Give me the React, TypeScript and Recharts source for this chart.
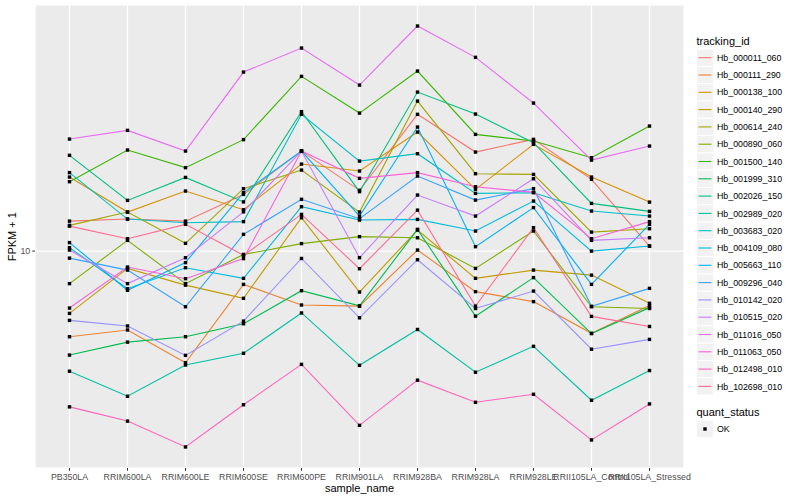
import { CartesianGrid, Line, LineChart, XAxis, YAxis } from 'recharts'

// FPKM + 1 per sample (log10 y axis)
const samples = [
  'PB350LA',
  'RRIM600LA',
  'RRIM600LE',
  'RRIM600SE',
  'RRIM600PE',
  'RRIM901LA',
  'RRIM928BA',
  'RRIM928LA',
  'RRIM928LE',
  'RRII105LA_Control',
  'RRII105LA_Stressed',
]

const hb000011_060 = [12.21, 12.38, 12.21, 14.59, 19.48, 14.99, 24.88, 19.35, 21.06, 16.13, 10.34]
const hb000111_290 = [5.65, 5.91, 4.75, 8.01, 6.98, 6.93, 10.07, 7.63, 7.14, 5.78, 6.96]
const hb000138_100 = [16.38, 12.97, 14.92, 13.18, 17.86, 17.05, 22.11, 15.09, 20.37, 16.38, 13.86]
const hb000140_290 = [6.6, 8.91, 7.97, 7.3, 12.49, 7.61, 11.5, 8.34, 8.81, 8.52, 7.06]
const hb000614_240 = [11.87, 12.97, 10.53, 15.16, 17.16, 12.97, 27.18, 16.75, 16.67, 11.35, 11.61]
const hb000890_060 = [8.05, 10.74, 8.05, 9.78, 10.51, 11.01, 10.93, 8.91, 11.43, 6.9, 6.82]
const hb001500_140 = [15.88, 19.61, 17.44, 21.02, 32.05, 25.09, 33.2, 21.77, 20.82, 18.64, 23.01]
const hb001999_310 = [5.0, 5.45, 5.65, 6.16, 7.68, 6.94, 11.56, 6.48, 8.38, 5.77, 6.86]
const hb002026_150 = [18.93, 14.02, 16.34, 13.88, 25.33, 14.86, 28.86, 24.93, 20.6, 13.74, 13.03]
const hb002989_020 = [4.49, 3.8, 4.68, 5.06, 6.62, 4.67, 5.93, 4.46, 5.3, 3.7, 4.51]
const hb003683_020 = [16.87, 12.38, 12.08, 12.17, 24.88, 18.22, 19.14, 14.69, 14.76, 13.06, 12.63]
const hb004109_080 = [10.23, 7.78, 8.95, 8.34, 13.44, 12.3, 12.35, 11.43, 13.96, 10.0, 10.34]
const hb005663_110 = [10.58, 7.7, 9.26, 14.76, 19.48, 12.63, 22.86, 10.3, 13.36, 8.01, 11.95]
const hb009296_040 = [9.54, 8.81, 6.9, 11.18, 14.12, 12.41, 16.49, 14.05, 15.16, 6.92, 7.8]
const hb010142_020 = [6.3, 6.07, 4.99, 6.27, 9.52, 6.41, 9.44, 6.82, 7.66, 5.2, 5.55]
const hb010515_020 = [10.07, 8.05, 9.57, 12.99, 19.48, 9.57, 14.53, 12.63, 16.2, 10.74, 10.93]
const hb011016_050 = [21.1, 22.36, 19.48, 32.98, 38.7, 30.24, 44.82, 36.38, 26.82, 18.34, 20.14]
const hb011063_050 = [6.84, 8.99, 8.32, 9.51, 19.48, 16.24, 16.87, 15.36, 14.79, 10.86, 12.17]
const hb012498_010 = [3.54, 3.22, 2.71, 3.59, 4.7, 3.13, 4.23, 3.65, 3.85, 2.84, 3.61]
const hb102698_010 = [11.81, 10.86, 11.95, 9.72, 12.77, 8.89, 13.14, 6.93, 11.69, 6.47, 6.05]

const trackingIds = [
  'Hb_000011_060',
  'Hb_000111_290',
  'Hb_000138_100',
  'Hb_000140_290',
  'Hb_000614_240',
  'Hb_000890_060',
  'Hb_001500_140',
  'Hb_001999_310',
  'Hb_002026_150',
  'Hb_002989_020',
  'Hb_003683_020',
  'Hb_004109_080',
  'Hb_005663_110',
  'Hb_009296_040',
  'Hb_010142_020',
  'Hb_010515_020',
  'Hb_011016_050',
  'Hb_011063_050',
  'Hb_012498_010',
  'Hb_102698_010',
]

const seriesValues = [
  hb000011_060, hb000111_290, hb000138_100, hb000140_290, hb000614_240,
  hb000890_060, hb001500_140, hb001999_310, hb002026_150, hb002989_020,
  hb003683_020, hb004109_080, hb005663_110, hb009296_040, hb010142_020,
  hb010515_020, hb011016_050, hb011063_050, hb012498_010, hb102698_010,
]

// ggplot default hue palette, 20 levels
const colors = [
  '#F8766D', '#EA8331', '#D89000', '#C09B00', '#A3A500',
  '#7CAE00', '#39B600', '#00BB4E', '#00BF7D', '#00C1A3',
  '#00BFC4', '#00BAE0', '#00B0F6', '#35A2FF', '#9590FF',
  '#C77CFF', '#E76BF3', '#FA62DB', '#FF62BC', '#FF6C91',
]

const yTicks = [10]

const chartData = samples.map((sample, i) => {
  const row: Record<string, string | number> = { sample }
  trackingIds.forEach((id, k) => {
    row[id] = seriesValues[k][i]
  })
  return row
})

// log range of the data plus 5% each side, like ggplot
const allValues = seriesValues.flat()
const lMin = Math.log10(Math.min(...allValues))
const lMax = Math.log10(Math.max(...allValues))
const lPad = (lMax - lMin) * 0.05
const yDomain = [10 ** (lMin - lPad), 10 ** (lMax + lPad)]

const FONT = '"Liberation Sans", Arial, Helvetica, sans-serif'
const tickStyle = { fontSize: 8.8, fill: '#4D4D4D', fontFamily: FONT }

const renderDot = (p: any) => {
  if (p.cx == null || p.cy == null) return <g key={`${p.dataKey}-${p.index}`} />
  return (
    <rect
      key={`${p.dataKey}-${p.index}`}
      x={p.cx - 1.7}
      y={p.cy - 1.7}
      width={3.4}
      height={3.4}
      fill="#000000"
    />
  )
}

const LEGEND_X = 696.5
const LEGEND_TOP = 57.7
const LEGEND_STEP = 17.3

const Legend = () => (
  <svg
    width={800}
    height={500}
    style={{ position: 'absolute', left: 0, top: 0, pointerEvents: 'none' }}
    fontFamily={FONT}
  >
    <text x={359.5} y={492} fontSize={11} textAnchor="middle" fill="#000">
      sample_name
    </text>
    <text
      x={16.5}
      y={236.7}
      fontSize={11}
      textAnchor="middle"
      fill="#000"
      transform="rotate(-90 16.5 236.7)"
    >
      FPKM + 1
    </text>

    <text x={LEGEND_X} y={44.5} fontSize={11} fill="#000">
      tracking_id
    </text>
    {trackingIds.map((id, k) => {
      const cy = LEGEND_TOP + k * LEGEND_STEP
      return (
        <g key={id}>
          <rect
            x={LEGEND_X}
            y={cy - LEGEND_STEP / 2}
            width={17}
            height={LEGEND_STEP}
            fill="#F2F2F2"
            stroke="#FFFFFF"
            strokeWidth={1}
          />
          <line
            x1={LEGEND_X + 2}
            x2={LEGEND_X + 15}
            y1={cy}
            y2={cy}
            stroke={colors[k]}
            strokeWidth={1.1}
          />
          <text x={LEGEND_X + 20.5} y={cy + 3.1} fontSize={8.8} fill="#000">
            {id}
          </text>
        </g>
      )
    })}

    <text x={LEGEND_X} y={416} fontSize={11} fill="#000">
      quant_status
    </text>
    <rect
      x={LEGEND_X}
      y={429 - LEGEND_STEP / 2}
      width={17}
      height={LEGEND_STEP}
      fill="#F2F2F2"
      stroke="#FFFFFF"
      strokeWidth={1}
    />
    <rect x={LEGEND_X + 6.8} y={429 - 1.7} width={3.4} height={3.4} fill="#000" />
    <text x={LEGEND_X + 20.5} y={432.1} fontSize={8.8} fill="#000">
      OK
    </text>
  </svg>
)

const App = () => (
  <div
    style={{
      position: 'absolute',
      left: 0,
      top: 0,
      width: 800,
      height: 500,
      background: '#FFFFFF',
      fontFamily: FONT,
    }}
  >
    <LineChart
      width={800}
      height={500}
      data={chartData}
      margin={{ top: 5, right: 116, bottom: 0, left: 0 }}
    >
      <CartesianGrid fill="#EBEBEB" stroke="#FFFFFF" strokeWidth={1.2} />
      <XAxis
        dataKey="sample"
        height={32}
        interval={0}
        padding={{ left: 34.5, right: 34.5 }}
        axisLine={false}
        tickLine={{ stroke: '#333333' }}
        tickSize={2.75}
        tickMargin={3}
        tick={tickStyle}
      />
      <YAxis
        type="number"
        scale="log"
        domain={yDomain}
        allowDataOverflow
        ticks={yTicks}
        width={35}
        axisLine={false}
        tickLine={{ stroke: '#333333' }}
        tickSize={2.75}
        tickMargin={2}
        tick={tickStyle}
      />
      {trackingIds.map((id, k) => (
        <Line
          key={id}
          type="linear"
          dataKey={id}
          stroke={colors[k]}
          strokeWidth={1.1}
          dot={false}
          activeDot={false}
          isAnimationActive={false}
        />
      ))}
      {trackingIds.map((id) => (
        <Line
          key={`${id}-pts`}
          type="linear"
          dataKey={id}
          stroke="none"
          dot={renderDot}
          activeDot={false}
          legendType="none"
          isAnimationActive={false}
        />
      ))}
    </LineChart>
    <Legend />
  </div>
)

export default App
